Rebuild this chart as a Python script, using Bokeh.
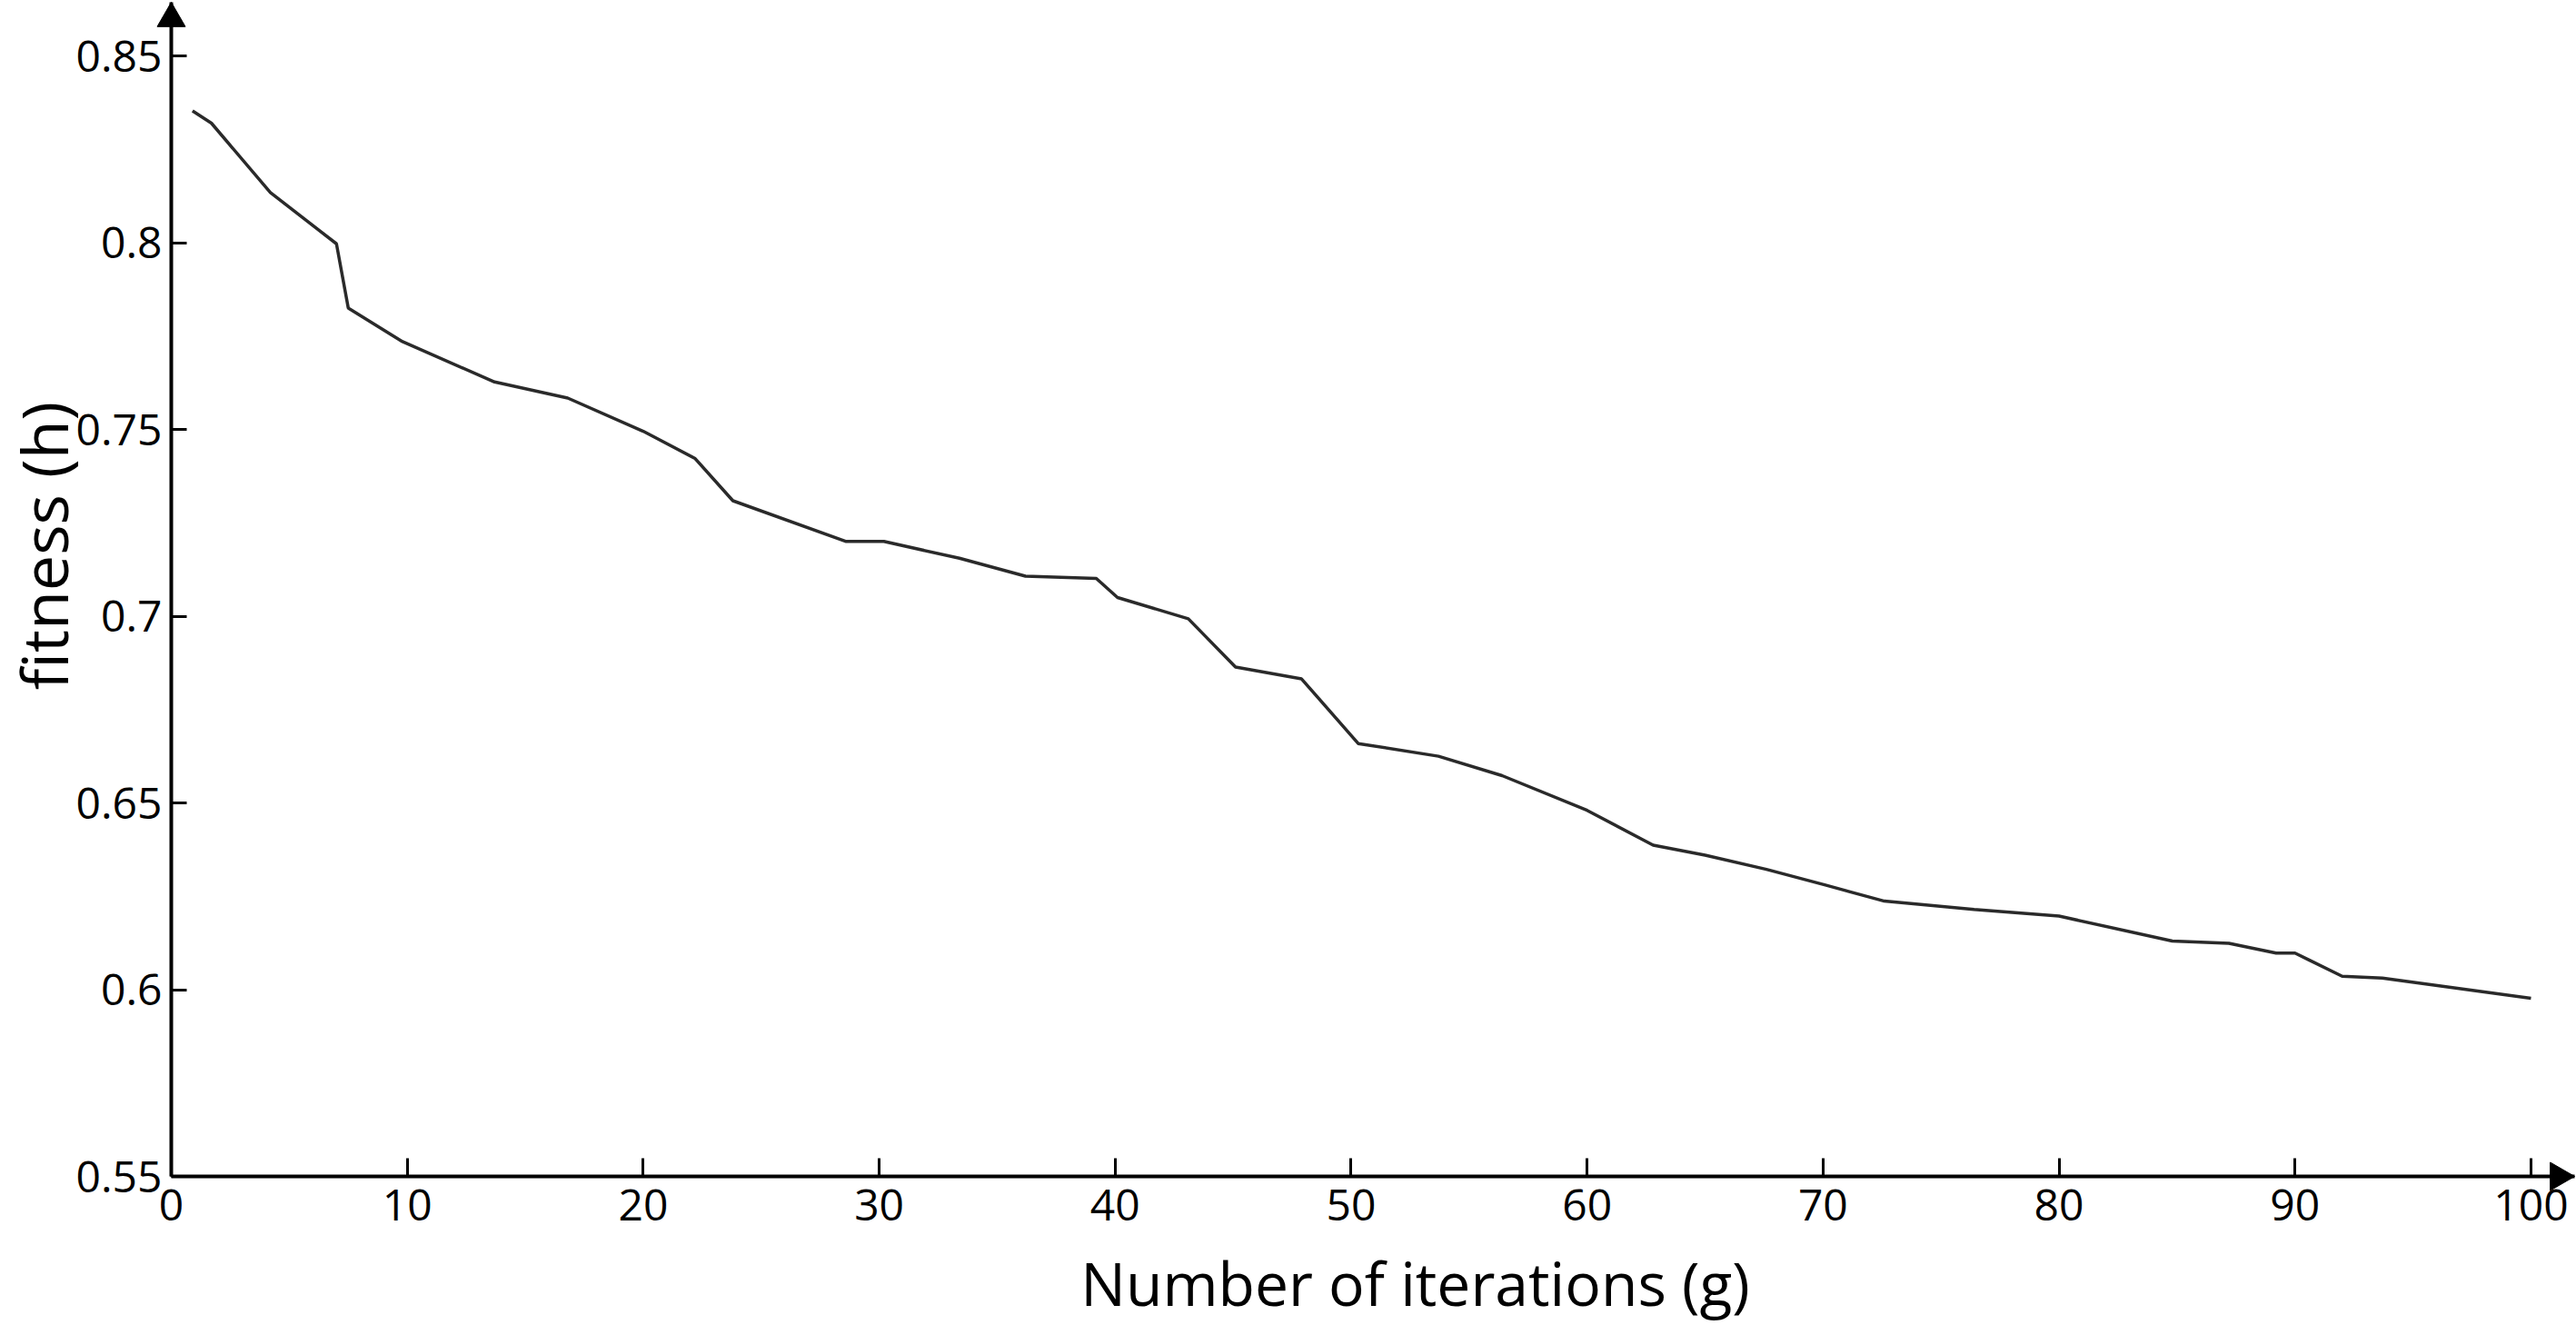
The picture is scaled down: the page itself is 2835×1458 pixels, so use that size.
import math
from bokeh.plotting import figure
from bokeh.models import Range1d, FixedTicker
from bokeh.core.properties import value
from bokeh.embed import file_html
from bokeh.resources import INLINE

# ---- data ----
iterations = [0.9, 1.7, 4.2, 7.0, 7.5, 9.8, 13.7, 16.8, 20.0, 22.2, 23.8, 28.6, 30.2,
              33.4, 36.2, 39.2, 40.1, 43.1, 45.1, 47.9, 50.3, 53.7, 56.4, 60.0, 62.8,
              65.0, 67.6, 70.1, 72.6, 76.4, 80.0, 84.8, 87.2, 89.2, 90.0, 92.0, 93.7, 100.0]
fitness = [0.8353, 0.8320, 0.8134, 0.7997, 0.7825, 0.7735, 0.7627, 0.7584, 0.7495, 0.7422,
           0.7309, 0.7200, 0.7200, 0.7155, 0.7107, 0.7101, 0.7050, 0.6993, 0.6864, 0.6832,
           0.6659, 0.6625, 0.6573, 0.6480, 0.6387, 0.6360, 0.6322, 0.6280, 0.6237, 0.6215,
           0.6197, 0.6130, 0.6124, 0.6098, 0.6098, 0.6036, 0.6031, 0.5977]

x_ticks = [0, 10, 20, 30, 40, 50, 60, 70, 80, 90, 100]
x_tick_labels = ["0", "10", "20", "30", "40", "50", "60", "70", "80", "90", "100"]
y_ticks = [0.55, 0.6, 0.65, 0.7, 0.75, 0.8, 0.85]
y_tick_labels = ["0.55", "0.6", "0.65", "0.7", "0.75", "0.8", "0.85"]

x_title = "Number of iterations (g)"
y_title = "fitness (h)"

# ---- layout (pixels; the page has no margin) ----
FONT = "Open Sans"
W, H = 2834, 1456
BL, BR, BT, BB = 188, 1, 2, 162
frame_w = W - BL - BR
frame_h = H - BT - BB
x_start, x_end = 0, 101.85
y_start, y_end = 0.55, 0.86436
px_per_x = frame_w / (x_end - x_start)
px_per_y = frame_h / (y_end - y_start)
frame_left_px = BL
frame_bottom_px = H - BB


def data_x(px):
    return x_start + (px - frame_left_px) / px_per_x


def data_y(py):
    return y_start + (frame_bottom_px - py) / px_per_y


p = figure(width=W, height=H, output_backend="svg", toolbar_location=None,
           x_range=Range1d(x_start, x_end), y_range=Range1d(y_start, y_end),
           min_border_left=BL, min_border_right=BR, min_border_top=BT,
           min_border_bottom=BB, background_fill_color="white",
           border_fill_color="white", outline_line_color=None)

p.xgrid.visible = False
p.ygrid.visible = False

p.line(iterations, fitness, line_color="#2a2a2a", line_width=3.5)

for ax in (p.xaxis[0], p.yaxis[0]):
    ax.axis_line_color = "black"
    ax.axis_line_width = 4
    ax.major_tick_line_color = "black"
    ax.major_tick_line_width = 3
    ax.major_tick_out = 0
    ax.minor_tick_line_color = None
    ax.major_label_text_font = FONT
    ax.major_label_text_font_size = "48px"
    ax.major_label_text_color = "black"

xa = p.xaxis[0]
xa.ticker = FixedTicker(ticks=x_ticks)
xa.major_label_overrides = {t: l for t, l in zip(x_ticks, x_tick_labels)}
xa.major_tick_in = 20
xa.major_label_standoff = 14

ya = p.yaxis[0]
ya.ticker = FixedTicker(ticks=y_ticks)
ya.major_label_overrides = {t: l for t, l in zip(y_ticks, y_tick_labels)}
ya.major_tick_in = 17
ya.major_label_standoff = 10

# axis titles (drawn unclipped, outside the frame)
p.text(x=[data_x(1557)], y=[data_y(1410)], text=[x_title],
       text_font=value(FONT), text_font_size=value("66px"), text_color="black",
       text_align="center", text_baseline="middle", level="overlay")
p.text(x=[data_x(47)], y=[data_y(600)], text=[y_title], angle=math.pi / 2,
       text_font=value(FONT), text_font_size=value("70px"), text_color="black",
       text_align="center", text_baseline="middle", level="overlay")

# arrow heads at the ends of both axes
tri_size = 31
apex = 0.577 * tri_size  # distance from marker centre to its apex, px
p.scatter([x_start], [y_end - apex / px_per_y], marker="triangle", size=tri_size,
          fill_color="black", line_color="black", level="overlay")
p.scatter([x_end - apex / px_per_x], [y_start], marker="triangle", size=tri_size,
          angle=-math.pi / 2, fill_color="black", line_color="black", level="overlay")

open("out.html", "w").write(file_html(p, INLINE))
